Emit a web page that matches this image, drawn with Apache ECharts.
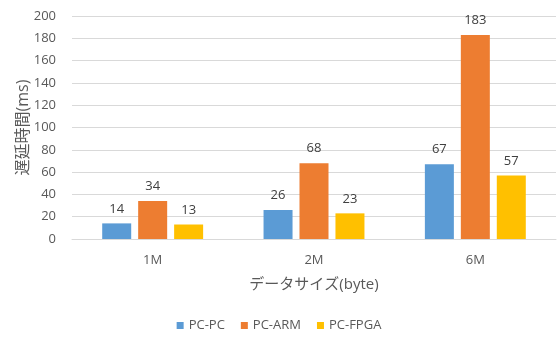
<!DOCTYPE html>
<html>
<head>
<meta charset="utf-8">
<script src="https://cdn.jsdelivr.net/npm/echarts@6/dist/echarts.min.js"></script>
<style>
  html, body { margin: 0; padding: 0; background: #fff; }
  #chart { width: 558px; height: 338px; }
</style>
</head>
<body>
<div id="chart"></div>
<script>
// Transfer latency per data size, for each link type
const categories = ['1M', '2M', '6M'];
const pcPc = [14, 26, 67];
const pcArm = [34, 68, 183];
const pcFpga = [13, 23, 57];
const seriesNames = ['PC-PC', 'PC-ARM', 'PC-FPGA'];
const yTicks = { min: 0, max: 200, interval: 20 };

const font = '"Open Sans", "Noto Sans CJK JP", sans-serif';
const colors = ['#5B9BD5', '#ED7D31', '#FFC000'];

function barSeries(name, data, color) {
  return {
    name: name,
    type: 'bar',
    data: data,
    barWidth: 29,
    barGap: '24%',
    itemStyle: { color: color },
    label: {
      show: true,
      position: 'top',
      distance: 8,
      color: '#404040',
      fontSize: 13,
      fontFamily: font
    }
  };
}

const chart = echarts.init(document.getElementById('chart'));
chart.setOption({
  animation: false,
  grid: { left: 72, right: 2, top: 16, bottom: 99, containLabel: false },
  legend: {
    bottom: 1,
    left: 'center',
    itemWidth: 7,
    itemHeight: 7,
    itemGap: 16,
    icon: 'rect',
    textStyle: { color: '#595959', fontSize: 13, fontFamily: font },
    data: seriesNames
  },
  xAxis: {
    type: 'category',
    data: categories,
    name: 'データサイズ(byte)',
    nameLocation: 'middle',
    nameGap: 38,
    nameMoveOverlap: false,
    nameTextStyle: { color: '#595959', fontSize: 15, fontFamily: font },
    axisLine: { lineStyle: { color: '#d9d9d9' } },
    axisTick: { show: false },
    axisLabel: { color: '#595959', fontSize: 13, fontFamily: font, margin: 15 }
  },
  yAxis: {
    type: 'value',
    min: yTicks.min,
    max: yTicks.max,
    interval: yTicks.interval,
    name: '遅延時間(ms)',
    nameLocation: 'middle',
    nameGap: 41,
    nameMoveOverlap: false,
    nameRotate: 90,
    nameTextStyle: { color: '#595959', fontSize: 16, fontFamily: font },
    axisLine: { show: false },
    axisTick: { show: false },
    splitLine: { lineStyle: { color: '#d9d9d9' } },
    axisLabel: { color: '#595959', fontSize: 13, fontFamily: font, margin: 16 }
  },
  series: [
    barSeries(seriesNames[0], pcPc, colors[0]),
    barSeries(seriesNames[1], pcArm, colors[1]),
    barSeries(seriesNames[2], pcFpga, colors[2])
  ]
});
</script>
</body>
</html>
